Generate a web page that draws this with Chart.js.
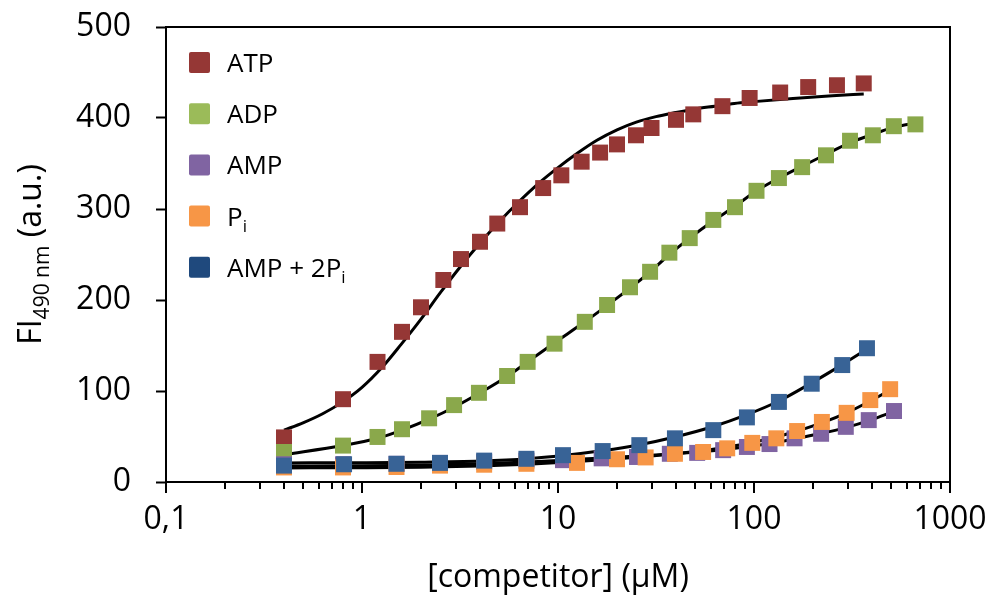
<!DOCTYPE html>
<html><head><meta charset="utf-8">
<script src="https://cdn.jsdelivr.net/npm/chart.js@4"></script>
<style>html,body{margin:0;padding:0;background:#fff}</style>
</head><body>
<canvas id="c" width="994" height="603"></canvas>
<script>
// ---- measured points ----
const atpConc = [0.4,0.8,1.2,1.6,2.0,2.6,3.2,4.0,4.9,6.4,8.4,10.4,13.2,16.4,20,25,30,40,49,69,95,136,189,265,363];
const atpFI   = [49,91,132,165,192,222,245,264,284,302,323,337,352,362,371,381,389,398,404,413,422,428,434,436,438];
const adpConc = [0.4,0.8,1.2,1.6,2.2,2.95,3.95,5.5,7.0,9.6,13.7,17.8,23.3,29.5,37,47,62,80,103,134,176,233,309,404,517,666];
const adpFI   = [33,40,49.5,58,70,84.5,98,116.5,132,152,176,194.5,214,231,252,268,288,302,320,334,346,359,375,381,391,393];
const ampConc = [0.4,0.8,1.5,2.5,4.2,6.9,10.6,16.7,25.3,37.2,51.3,69.6,92,120,161,220,294,385,518];
const ampFI   = [19.5,19.5,20,21,22,23.5,24,26,27.5,31,32,35,38.5,41.7,48,53,60.6,68,78];
const piConc  = [0.4,0.8,1.5,2.5,4.2,6.9,12.5,20,28,39.5,55,73,98,130,166,222,297,392,495];
const piFI    = [16,16,16.5,18,19,20,21,25,27,31,33,37,43,48,56,66,76,90,102];
const amp2piConc = [0.4,0.81,1.5,2.5,4.2,6.9,10.6,16.9,26,39.5,62,92,134,197,282,377];
const amp2piFI   = [18,19.5,20,21,23.5,25.5,29.5,34,40.5,48,57,71,88,108,128.5,147];

// ---- fitted curves ----
const atpFitConc = [0.4,0.5,0.63,0.79,1.0,1.26,1.58,2.0,2.51,3.16,3.98,5.01,6.31,7.94,10,12.6,15.8,20,25.1,31.6,39.8,50.1,63.1,79.4,100,158,251,363];
const atpFitFI   = [57,65,75,87.5,104,125.5,151,179,208,236,262,286,308,328,345.5,361.5,375.5,387,395.5,401.5,406,410,413,416,418,421.5,424.5,426.5];
const adpFitConc = [0.4,0.8,1.2,1.6,2.2,3,4,5.5,7,9.6,13.7,17.8,23.3,29.5,37,47,62,80,103,134,176,233,309,404,517,700];
const adpFitFI   = [30,40,48,57,69,83,98,116,132,153,176,194,213,231,250,268,287,303,320,334,347,360,373,382,390,395];
const ampFitConc = [0.4,1,2,4,7,10.6,17,26,39.5,55,73,98,130,166,222,297,392,517];
const ampFitFI   = [17.5,17.8,18.5,20,22,24,26.5,28.5,31,33.5,36,39.5,43.5,48,53.5,60,68,77.5];
const piFitConc  = [0.4,1,2,4,7,12.5,20,28,39.5,55,73,98,130,166,222,297,392,495];
const piFitFI    = [15.5,15.7,16.2,17.5,19.5,22.5,25.5,28,31,34.5,38.5,43.5,49.5,56,65,76,89,101];
const amp2piFitConc = [0.4,1,2,4,7,10.6,17,26,39.5,62,92,134,197,282,377];
const amp2piFitFI   = [21,21.2,21.7,23,25.5,29,34.5,41,49.5,61,74,89,109,129,146];

// ---- labels ----
const seriesLabels = ['ATP','ADP','AMP','P_{i}','AMP + 2P_{i}'];
const pointColors  = ['#953735','#8AA84B','#8064A2','#F79646','#386396'];
const legendColors = ['#953735','#9BBB59','#8064A2','#F79646','#1F497D'];
const xTickValues = [0.1,1,10,100,1000];
const xTickLabels = ['0,1','1','10','100','1000'];
const yTickLabels = ['0','100','200','300','400','500'];
const xAxisTitle = '[competitor] (µM)';
const yAxisTitle = 'FI_{490 nm} (a.u.)';

const FONT = 'Open Sans';
const toXY = (xs, ys) => xs.map((x, i) => ({x: x, y: ys[i]}));

const pointSets = [
  toXY(atpConc, atpFI), toXY(adpConc, adpFI), toXY(ampConc, ampFI),
  toXY(piConc, piFI), toXY(amp2piConc, amp2piFI)
];
const fitSets = [
  toXY(atpFitConc, atpFitFI), toXY(adpFitConc, adpFitFI), toXY(ampFitConc, ampFitFI),
  toXY(piFitConc, piFitFI), toXY(amp2piFitConc, amp2piFitFI)
];

const datasets = [];
fitSets.forEach((d, i) => datasets.push({
  label: 'fit ' + i, data: d, showLine: true, borderColor: '#000', borderWidth: 3,
  pointRadius: 0, cubicInterpolationMode: 'monotone', fill: false, order: 10
}));
pointSets.forEach((d, i) => datasets.push({
  label: seriesLabels[i], data: d, showLine: false, pointStyle: 'rect', pointRadius: 11.3,
  backgroundColor: pointColors[i], borderWidth: 0, order: 5 - i
}));

function parseRich(s) {
  const parts = []; const re = /_\{([^}]*)\}/g; let last = 0, m;
  while ((m = re.exec(s))) {
    if (m.index > last) parts.push({t: s.slice(last, m.index), sub: false});
    parts.push({t: m[1], sub: true}); last = re.lastIndex;
  }
  if (last < s.length) parts.push({t: s.slice(last), sub: false});
  return parts;
}
function richWidth(ctx, parts, size, sub) {
  let w = 0;
  parts.forEach(p => { ctx.font = (p.sub ? sub : size) + 'px "' + FONT + '"'; w += ctx.measureText(p.t).width; });
  return w;
}
function drawRich(ctx, parts, x, y, size, sub) {
  let cx = x;
  parts.forEach(p => {
    ctx.font = (p.sub ? sub : size) + 'px "' + FONT + '"';
    ctx.fillText(p.t, cx, y + (p.sub ? size * 0.25 : 0));
    cx += ctx.measureText(p.t).width;
  });
}

const decorPlugin = {
  id: 'decor',
  afterDraw(chart) {
    const ctx = chart.ctx; const a = chart.chartArea; const xs = chart.scales.x;
    ctx.save();
    ctx.strokeStyle = '#000'; ctx.lineWidth = 2;
    ctx.strokeRect(a.left, a.top, a.right - a.left, a.bottom - a.top);
    // x ticks (major and minor)
    xs.ticks.forEach(t => {
      const px = Math.round(xs.getPixelForValue(t.value));
      const dec = xTickValues.some(d => Math.abs(d - t.value) / d < 1e-6);
      ctx.beginPath(); ctx.moveTo(px, a.bottom); ctx.lineTo(px, a.bottom + (dec ? 11 : 7)); ctx.stroke();
    });
    // legend
    ctx.textBaseline = 'alphabetic'; ctx.textAlign = 'left';
    seriesLabels.forEach((lab, i) => {
      const cy = a.top + 35.5 + i * 51.2;
      ctx.fillStyle = legendColors[i];
      ctx.beginPath();
      if (ctx.roundRect) ctx.roundRect(a.left + 23, cy - 10.5, 21, 21, 2); else ctx.rect(a.left + 23, cy - 10.5, 21, 21);
      ctx.fill();
      ctx.fillStyle = '#000';
      drawRich(ctx, parseRich(lab), a.left + 61, cy + 9.5, 26, 17);
    });
    // y axis title
    ctx.fillStyle = '#000';
    const parts = parseRich(yAxisTitle);
    const w = richWidth(ctx, parts, 32, 21);
    ctx.translate(30, (a.top + a.bottom) / 2);
    ctx.rotate(-Math.PI / 2);
    drawRich(ctx, parts, -w / 2, 11, 32, 21);
    ctx.restore();
  }
};

new Chart(document.getElementById('c'), {
  type: 'scatter',
  data: { datasets: datasets },
  plugins: [decorPlugin],
  options: {
    responsive: false, animation: false, devicePixelRatio: 1, events: [],
    layout: { padding: { top: 27, right: 44, left: 0, bottom: 0 } },
    plugins: { legend: { display: false }, tooltip: { enabled: false } },
    scales: {
      x: {
        type: 'logarithmic', min: 0.1, max: 1000, position: 'bottom',
        afterBuildTicks: (s) => {
          const t = [];
          for (let e = -1; e <= 2; e++) for (let k = 1; k <= 9; k++) t.push({value: +(k * Math.pow(10, e)).toPrecision(6)});
          t.push({value: 1000});
          s.ticks = t;
        },
        grid: { display: true, drawOnChartArea: false, drawTicks: true, tickLength: 11, tickColor: 'rgba(0,0,0,0)' },
        border: { display: false },
        ticks: {
          autoSkip: false, maxRotation: 0, minRotation: 0, padding: 8, color: '#000',
          font: { family: FONT, size: 32 },
          callback: (v) => { const i = xTickValues.findIndex(d => Math.abs(d - v) / d < 1e-6); return i >= 0 ? xTickLabels[i] : ''; }
        },
        title: { display: true, text: xAxisTitle, color: '#000', font: { family: FONT, size: 32 }, padding: { top: 0, bottom: 6 } },
        afterFit: (s) => { s.height = 121; s.paddingLeft = 0; s.paddingRight = 0; }
      },
      y: {
        type: 'linear', min: 0, max: 500,
        ticks: { stepSize: 100, padding: 25, color: '#000', font: { family: FONT, size: 32 },
          callback: (v) => yTickLabels[Math.round(v / 100)] },
        grid: { drawOnChartArea: false, drawTicks: true, tickLength: 10, tickColor: '#000', tickWidth: 2 },
        border: { display: false },
        afterFit: (s) => { s.width = 166; s.paddingTop = 0; s.paddingBottom = 0; }
      }
    }
  }
});
</script>
</body></html>
